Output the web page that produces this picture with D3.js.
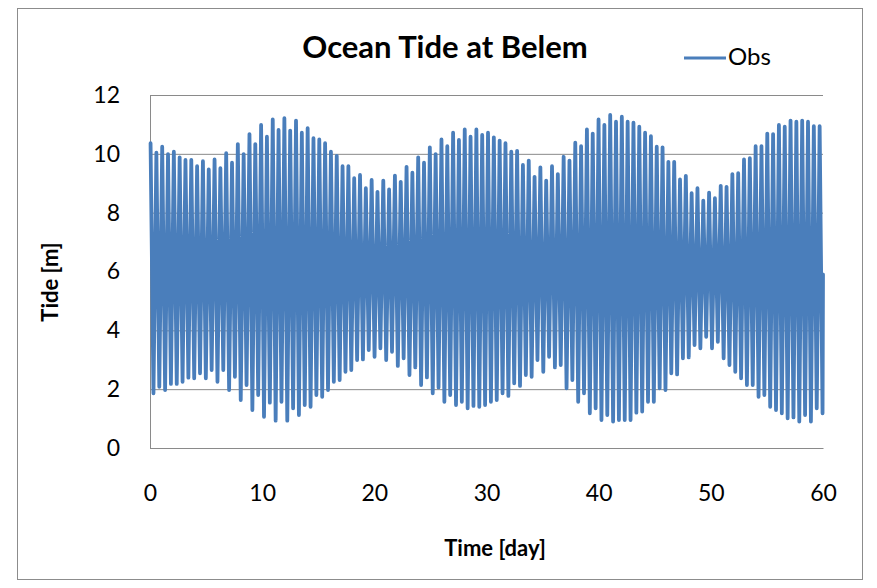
<!DOCTYPE html>
<html>
<head>
<meta charset="utf-8">
<script src="https://d3js.org/d3.v7.min.js"></script>
<style>
    body { margin: 0; background: #ffffff; }
    text { font-family: Lato, "Open Sans", sans-serif; fill: #000000; }
</style>
</head>
<body>
<svg id="drawing_region"></svg>
<script>
// high water level of each semidiurnal cycle [m]
const highWater = [
    10.36,10.04,10.24,9.99,10.07,9.88,9.79,9.79,9.58,9.75,9.47,9.81,9.51,10.02,9.70,10.33,9.99,10.67,10.33,10.98,
    10.58,11.17,10.81,11.21,10.79,11.13,10.72,10.87,10.53,10.49,10.36,10.07,9.93,9.58,9.58,9.17,9.28,8.83,
    9.11,8.71,9.09,8.79,9.26,9.05,9.56,9.36,9.88,9.70,10.22,9.99,10.49,10.26,10.72,10.47,10.83,10.58,10.83,10.64,
    10.72,10.56,10.45,10.36,10.07,10.10,9.62,9.77,9.22,9.54,9.09,9.58,9.31,9.90,9.77,10.38,10.26,10.83,
    10.69,11.17,10.98,11.32,11.09,11.26,11.09,11.06,10.92,10.72,10.60,10.24,10.22,9.73,9.73,9.13,9.25,8.66,8.83,8.41,
    8.68,8.49,8.91,8.88,9.31,9.34,9.81,9.85,10.26,10.26,10.69,10.67,10.98,10.92,11.13,11.09,11.13,11.09,10.94,10.94
];

// low water level following each high water [m]
const lowWater = [
    1.86,2.08,1.97,2.18,2.18,2.25,2.39,2.37,2.54,2.37,2.65,2.25,2.65,1.97,2.42,1.63,2.14,1.29,1.80,1.06,
    1.54,0.93,1.57,0.93,1.35,1.12,1.46,1.40,1.80,1.74,1.97,2.25,2.31,2.59,2.65,2.99,3.01,
    3.33,3.10,3.39,2.99,3.27,2.79,3.05,2.48,2.74,2.14,2.40,1.86,2.06,1.57,1.80,1.46,1.57,1.35,1.43,1.40,
    1.46,1.57,1.63,1.86,1.77,2.20,2.11,2.48,2.42,2.99,2.59,3.10,2.74,2.82,2.03,2.31,1.57,1.86,
    1.18,1.35,0.95,1.12,0.90,0.95,0.95,0.95,1.20,1.24,1.57,1.57,2.03,1.97,2.54,2.50,3.05,3.08,3.50,3.39,
    3.78,3.39,3.61,3.05,2.82,2.59,2.37,2.14,2.14,1.74,1.80,1.40,1.29,1.18,1.01,1.04,0.90,1.12,0.90,1.35,1.18
];

const firstHighDay = 0.05;   // time of first high water [day]
const tidePeriod = 0.5187;   // days between successive high waters
const lastLevel = 5.9;       // level at the end of the record (day 60)

const xTicks = [ 0, 10, 20, 30, 40, 50, 60 ];
const yTicks = [ 0, 2, 4, 6, 8, 10, 12 ];

let data = [];
highWater.forEach( (h, i) => {
    let t = firstHighDay + i * tidePeriod;
    data.push( { day: t, tide: h } );
    data.push( { day: t + tidePeriod / 2, tide: lowWater[i] } );
});
data.push( { day: 60, tide: lastLevel } );

class TideChart {

    constructor( config, data ) {
        this.config = {
            parent: config.parent,
            width: config.width || 256,
            height: config.height || 256,
            margin: config.margin || { top:10, right:10, bottom:10, left:10 },
            color: config.color || 'steelblue'
        }
        this.data = data;
        this.init();
    }

    init() {
        let self = this;

        self.svg = d3.select( self.config.parent )
            .attr( 'width', self.config.width )
            .attr( 'height', self.config.height );

        // outer chart frame
        self.svg.append( 'rect' )
            .attr( 'x', 17.5 )
            .attr( 'y', 8.5 )
            .attr( 'width', 845 )
            .attr( 'height', 571 )
            .attr( 'fill', '#ffffff' )
            .attr( 'stroke', '#8c8c8c' )
            .attr( 'stroke-width', 1 );

        self.chart = self.svg.append( 'g' )
            .attr( 'transform', `translate(${self.config.margin.left}, ${self.config.margin.top})` );

        self.inner_width = self.config.width - self.config.margin.left - self.config.margin.right;
        self.inner_height = self.config.height - self.config.margin.top - self.config.margin.bottom;

        self.xscale = d3.scaleLinear()
            .domain( [ 0, 60 ] )
            .range( [ 0, self.inner_width ] );

        self.yscale = d3.scaleLinear()
            .domain( [ 0, 12 ] )
            .range( [ self.inner_height, 0 ] );

        self.xaxis = d3.axisBottom( self.xscale )
            .tickValues( xTicks )
            .tickSize( 0 )
            .tickPadding( 37 );

        self.yaxis = d3.axisLeft( self.yscale )
            .tickValues( yTicks )
            .tickSizeInner( -self.inner_width )
            .tickSizeOuter( 0 )
            .tickPadding( 30 );

        self.yaxis_group = self.chart.append( 'g' );

        self.xaxis_group = self.chart.append( 'g' )
            .attr( 'transform', `translate(0, ${self.inner_height})` );

        self.line = d3.line()
            .x( d => self.xscale( d.day ) )
            .y( d => self.yscale( d.tide ) );
    }

    render() {
        let self = this;

        self.yaxis_group.call( self.yaxis );
        self.yaxis_group.selectAll( '.tick line' )
            .attr( 'stroke', '#8a8a8a' );
        self.yaxis_group.select( '.domain' )
            .attr( 'stroke', '#8a8a8a' );
        self.yaxis_group.selectAll( 'text' )
            .style( 'font-size', '23px' );

        self.xaxis_group.call( self.xaxis );
        self.xaxis_group.select( '.domain' )
            .attr( 'stroke', '#8a8a8a' );
        self.xaxis_group.selectAll( 'text' )
            .style( 'font-size', '23px' );

        self.chart.append( 'path' )
            .datum( self.data )
            .attr( 'd', self.line )
            .attr( 'fill', 'none' )
            .attr( 'stroke', self.config.color )
            .attr( 'stroke-width', 3.8 )
            .attr( 'stroke-linejoin', 'round' )
            .attr( 'stroke-linecap', 'round' );

        // titles
        self.svg.append( 'text' )
            .attr( 'x', 445 )
            .attr( 'y', 58 )
            .attr( 'text-anchor', 'middle' )
            .style( 'font-size', '31px' )
            .style( 'font-weight', 'bold' )
            .text( 'Ocean Tide at Belem' );

        self.svg.append( 'text' )
            .attr( 'x', 495 )
            .attr( 'y', 556 )
            .attr( 'text-anchor', 'middle' )
            .style( 'font-size', '22px' )
            .style( 'font-weight', 'bold' )
            .text( 'Time [day]' );

        self.svg.append( 'text' )
            .attr( 'transform', 'translate(58, 282) rotate(-90)' )
            .attr( 'text-anchor', 'middle' )
            .style( 'font-size', '22px' )
            .style( 'font-weight', 'bold' )
            .text( 'Tide [m]' );

        // legend
        self.svg.append( 'line' )
            .attr( 'x1', 684 )
            .attr( 'x2', 726 )
            .attr( 'y1', 58 )
            .attr( 'y2', 58 )
            .attr( 'stroke', self.config.color )
            .attr( 'stroke-width', 3 );

        self.svg.append( 'text' )
            .attr( 'x', 728 )
            .attr( 'y', 65 )
            .style( 'font-size', '24px' )
            .text( 'Obs' );
    }
}

var config = {
    parent: '#drawing_region',
    width: 877,
    height: 588,
    margin: { top:95, right:54, bottom:140, left:150 },
    color: '#4a7ebb'
};

const tide_chart = new TideChart( config, data );
tide_chart.render();
</script>
</body>
</html>
